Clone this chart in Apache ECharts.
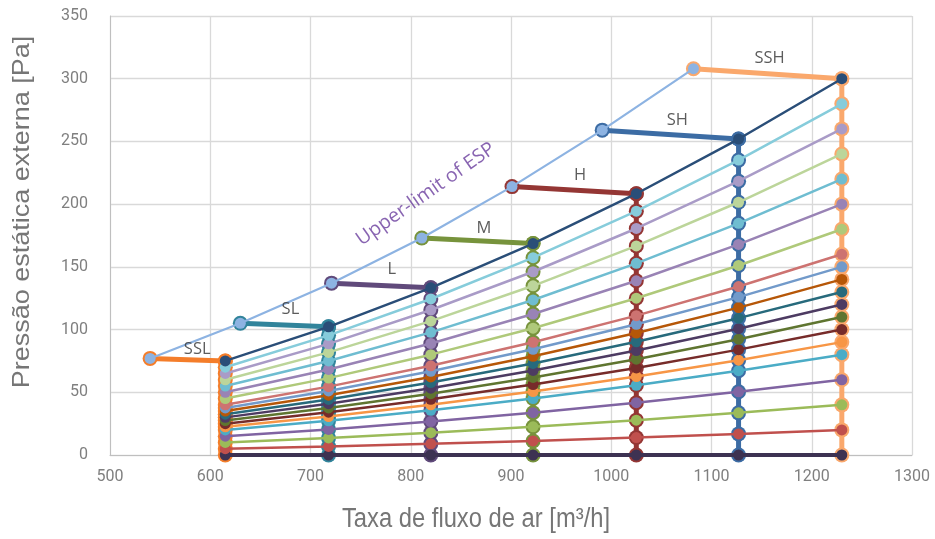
<!DOCTYPE html>
<html><head><meta charset="utf-8">
<script src="https://cdn.jsdelivr.net/npm/echarts@6/dist/echarts.min.js"></script>
<style>html,body{margin:0;padding:0;background:#fff}#c{width:935px;height:539px}</style>
</head><body><div id="c"></div>
<script>
// Air flow columns (fan curves evaluated at these flows)
const flows = [615, 718, 820, 922, 1025, 1127, 1230];
// Pressure curves, one per row, values at each flow
const curve0   = [0, 0, 0, 0, 0, 0, 0];
const curve20  = [5, 6.8, 8.9, 11.2, 13.9, 16.8, 20];
const curve40  = [10, 13.6, 17.8, 22.5, 27.8, 33.6, 40];
const curve60  = [15, 20.4, 26.7, 33.7, 41.7, 50.4, 60];
const curve80  = [20, 27.3, 35.6, 45.0, 55.6, 67.2, 80];
const curve90  = [22.5, 30.7, 40.0, 50.6, 62.5, 75.6, 90];
const curve100 = [25, 34.1, 44.4, 56.2, 69.4, 84.0, 100];
const curve110 = [27.5, 37.5, 48.9, 61.8, 76.4, 92.3, 110];
const curve120 = [30, 40.9, 53.3, 67.4, 83.3, 100.7, 120];
const curve130 = [32.5, 44.3, 57.8, 73.0, 90.3, 109.1, 130];
const curve140 = [35, 47.7, 62.2, 78.7, 97.2, 117.5, 140];
const curve150 = [37.5, 51.1, 66.7, 84.3, 104.2, 125.9, 150];
const curve160 = [40, 54.5, 71.1, 89.9, 111.1, 134.3, 160];
const curve180 = [45, 61.3, 80.0, 101.1, 125.0, 151.1, 180];
const curve200 = [50, 68.2, 88.9, 112.4, 138.9, 167.9, 200];
const curve220 = [55, 75.0, 97.8, 123.6, 152.8, 184.7, 220];
const curve240 = [60, 81.8, 106.7, 134.9, 166.7, 201.5, 240];
const curve260 = [65, 88.6, 115.6, 146.1, 180.6, 218.3, 260];
const curve280 = [70, 95.4, 124.4, 157.3, 194.4, 235.1, 280];
const curve300 = [75, 102.2, 133.3, 168.6, 208.3, 251.9, 300];
const curves = [curve0, curve20, curve40, curve60, curve80, curve90, curve100, curve110, curve120, curve130,
  curve140, curve150, curve160, curve180, curve200, curve220, curve240, curve260, curve280, curve300];

// Upper limit of ESP
const limitFlow = [540, 630, 721, 811, 901, 991, 1082];
const limitPres = [77, 105, 137, 173, 214, 259, 308];
// Fan speed names (segments from the limit to the top curve)
const speedNames = ['SSL', 'SL', 'L', 'M', 'H', 'SH', 'SSH'];
const speedLabelX = [587, 680, 781, 873, 969, 1066, 1158];
const speedLabelY = [84, 116, 148, 181, 223, 267, 316];
const limitLabel = 'Upper-limit of ESP';
const limitLabelPos = [815, 208];

const xTicks = [500, 1300, 100];
const yTicks = [0, 350, 50];
const xTitle = 'Taxa de fluxo de ar [m³/h]';
const yTitle = 'Pressão estática externa [Pa]';

const curveColors = ['#3D3252', '#C0504D', '#9BBB59', '#8064A2', '#4BACC6', '#F79646', '#772C2A', '#5F7530',
  '#4D3B62', '#276A7C', '#B65708', '#729ACA', '#CD7371', '#AFC97A', '#9983B5', '#6FBDD1', '#BCD59A',
  '#A99BC7', '#86CCDB', '#2A4E78'];
const colColors = ['#F47D2A', '#31849B', '#604A7B', '#77933C', '#943634', '#3C6CA4', '#FAA86C'];
const limitColor = '#8DB3E2';

const series = [];
// vertical columns
flows.forEach((f, i) => {
  series.push({
    type: 'line', z: 2, silent: true,
    data: curves.map(c => [f, c[i]]),
    lineStyle: { width: 5, color: colColors[i] },
    itemStyle: { color: colColors[i] },
    symbol: 'circle', symbolSize: 15, animation: false
  });
});
// speed segments
flows.forEach((f, i) => {
  series.push({
    type: 'line', z: 2, silent: true,
    data: [[limitFlow[i], limitPres[i]], [f, curve300[i]]],
    lineStyle: { width: 5, color: colColors[i] },
    itemStyle: { color: colColors[i] },
    symbol: 'circle', symbolSize: 15, animation: false
  });
});
// curves
curves.forEach((c, k) => {
  series.push({
    type: 'line', z: 3, silent: true,
    data: flows.map((f, i) => [f, c[i]]),
    lineStyle: { width: k === 0 ? 4 : 2.5, color: curveColors[k] },
    itemStyle: { color: curveColors[k] },
    symbol: 'circle', symbolSize: 11, animation: false
  });
});
// upper limit
series.push({
  type: 'line', z: 4, silent: true,
  data: limitFlow.map((f, i) => [f, limitPres[i]]),
  lineStyle: { width: 2.2, color: limitColor },
  itemStyle: { color: limitColor },
  symbol: 'circle', symbolSize: 11, animation: false
});
// labels
series.push({
  type: 'scatter', z: 5, silent: true, symbolSize: 0, animation: false,
  data: speedNames.map((n, i) => ({ value: [speedLabelX[i], speedLabelY[i]], name: n })),
  label: { show: true, position: 'inside', formatter: p => p.name, color: '#333333', fontSize: 16.5, fontFamily: 'Open Sans' }
});
series.push({
  type: 'scatter', z: 5, silent: true, symbolSize: 0, animation: false,
  data: [{ value: limitLabelPos, name: limitLabel }],
  label: { show: true, position: 'inside', rotate: 35, formatter: p => p.name, color: '#6A3D9E', fontSize: 19.5, fontFamily: 'Open Sans' }
});

const chart = echarts.init(document.getElementById('c'));
chart.setOption({
  animation: false,
  grid: { left: 110, right: 23, top: 16, bottom: 84 },
  xAxis: {
    type: 'value', min: xTicks[0], max: xTicks[1], interval: xTicks[2],
    axisLine: { show: true, lineStyle: { color: '#BFBFBF' } },
    axisTick: { show: false },
    axisLabel: { color: '#7F7F7F', fontSize: 16, margin: 14, fontFamily: 'Roboto', formatter: v => String(v) },
    splitLine: { show: true, lineStyle: { color: '#D9D9D9', width: 1.3 } }
  },
  yAxis: {
    type: 'value', min: yTicks[0], max: yTicks[1], interval: yTicks[2],
    axisLine: { show: true, lineStyle: { color: '#BFBFBF' } },
    axisTick: { show: false },
    axisLabel: { color: '#7F7F7F', fontSize: 16, margin: 22, fontFamily: 'Roboto', formatter: v => String(v) },
    splitLine: { show: true, lineStyle: { color: '#D9D9D9', width: 1.3 } }
  },
  graphic: [
    { type: 'text', x: 476, y: 520, scaleX: 0.88, style: { text: xTitle, fill: '#767676', fontSize: 27, fontFamily: 'Liberation Sans', align: 'center', verticalAlign: 'middle' } },
    { type: 'text', x: 22, y: 212, rotation: Math.PI / 2, scaleY: 0.88, style: { text: yTitle, fill: '#767676', fontSize: 27, fontFamily: 'Liberation Sans', align: 'center', verticalAlign: 'middle' } }
  ],
  series: series
});
</script></body></html>
